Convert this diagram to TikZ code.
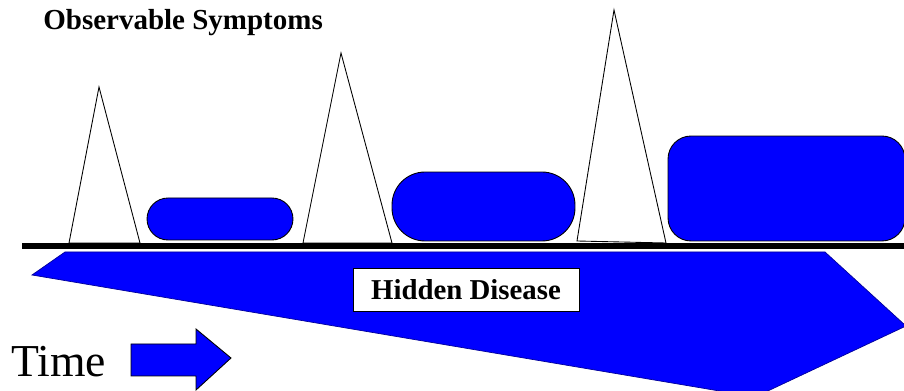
\documentclass[tikz,border=0pt]{standalone}
\usepackage{fontspec}
\setmainfont{Liberation Serif}
\usepackage{tikz}
\usetikzlibrary{arrows.meta, positioning, calc}

\begin{document}
\begin{tikzpicture}[
    x=0.02cm, y=-0.02cm,
    flare/.style={
        draw=black,
        fill=white,
        line width=0.5pt
    },
    chronic/.style={
        draw=black,
        fill=blue,
        rectangle,
        inner sep=0pt,
        line width=0.5pt
    },
    label/.style={
        draw=black,
        fill=white,
        rectangle,
        inner sep=0pt,
        minimum width=4.52cm,
        minimum height=0.86cm,
        font=\fontsize{16.4}{18}\selectfont\bfseries
    },
    timeline/.style={
        draw=black,
        line width=3pt
    }
]
\useasboundingbox (0,0) rectangle (904,391);

% Hidden disease wedge
\draw [fill=blue, draw=blue!60!black, line width=0.4pt]
    (65,252) -- (825,252) -- (906,326) -- (755,397) -- (32,275) -- cycle;

% Flares
\draw [flare] (69,243) -- (99,87) -- (140,243) -- cycle;
\draw [flare] (303,243) -- (341,53) -- (392,243) -- cycle;
\draw [flare] (577,241) -- (614,10) -- (666,243) -- cycle;

% Nodes
\node (c1) [chronic, minimum width=2.92cm, minimum height=0.84cm, rounded corners=0.42cm] at (220,219) {};
\node (c2) [chronic, minimum width=3.66cm, minimum height=1.38cm, rounded corners=0.66cm] at (483.5,206.5) {};
\node (c3) [chronic, minimum width=4.74cm, minimum height=2.1cm, rounded corners=0.46cm] at (786.5,188.5) {};
\node (hidden) [label] at (466,289.5) {Hidden Disease};
\node (obs) [anchor=base west, inner sep=0pt, font=\fontsize{16.5}{18}\selectfont\bfseries] at (43,30) {Observable Symptoms};
\node (time) [anchor=base west, inner sep=0pt, font=\fontsize{26}{30}\selectfont] at (11,377) {Time};

% Paths
\coordinate (tl) at (22,246);
\coordinate (tr) at (904,246);
\draw [timeline] (tl) -- (tr);
\draw [fill=blue, draw=black, line width=0.5pt]
    (131,344) -- (196,344) -- (196,329) -- (231,358) -- (196,390) -- (196,376) -- (131,376) -- cycle;

\end{tikzpicture}
\end{document}
